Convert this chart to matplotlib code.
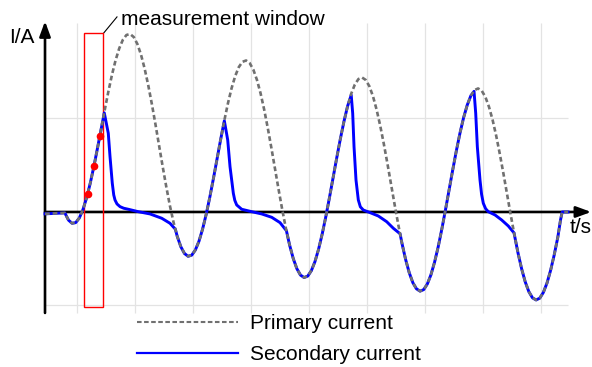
#!/usr/bin/env python
"""CT saturation sketch: primary vs. secondary current with a measurement window."""

import matplotlib
matplotlib.use("Agg")
import matplotlib.pyplot as plt
from matplotlib.lines import Line2D
from matplotlib.patches import Rectangle

plt.rcParams["font.family"] = ["Liberation Sans", "DejaVu Sans"]

# time in ms, current in grid units
primary_t = [4.43, 7.85, 8.475, 9.1, 9.725, 10.35, 10.975, 11.6, 12.225, 12.85, 13.475,
             14.1, 14.725, 15.35, 15.975, 16.6, 17.225, 17.85, 18.475, 19.1, 19.725,
             20.35, 20.975, 21.6, 22.225, 22.85, 23.475, 24.1, 24.725, 25.35, 25.975,
             26.6, 27.225, 27.85, 28.475, 29.1, 29.725, 30.35, 30.975, 31.6, 32.225,
             32.85, 33.475, 34.1, 34.725, 35.35, 35.975, 36.6, 37.225, 37.85, 38.475,
             39.1, 39.725, 40.35, 40.975, 41.6, 42.225, 42.85, 43.475, 44.1, 44.725,
             45.35, 45.975, 46.6, 47.225, 47.85, 48.475, 49.1, 49.725, 50.35, 50.975,
             51.6, 52.225, 52.85, 53.475, 54.1, 54.725, 55.35, 55.975, 56.6, 57.225,
             57.85, 58.475, 59.1, 59.725, 60.35, 60.975, 61.6, 62.225, 62.85, 63.475,
             64.1, 64.725, 65.35, 65.975, 66.6, 67.225, 67.85, 68.475, 69.1, 69.725,
             70.35, 70.975, 71.6, 72.225, 72.85, 73.475, 74.1, 74.725, 75.35, 75.975,
             76.6, 77.225, 77.85, 78.475, 79.1, 79.725, 80.35, 80.975, 81.6, 82.225,
             82.85, 83.475, 84.1, 84.725, 85.35, 85.975, 86.6, 87.225, 87.85, 88.475,
             89.1, 89.725, 90.35, 90.975, 91.6, 92.225, 92.85, 93.3, 93.6, 94.6]
primary_i = [-0.02, -0.010, -0.087, -0.121, -0.114, -0.064, 0.026, 0.151, 0.306, 0.485, 0.681,
             0.885, 1.090, 1.286, 1.467, 1.623, 1.749, 1.841, 1.893, 1.903, 1.871,
             1.797, 1.684, 1.535, 1.357, 1.155, 0.937, 0.710, 0.483, 0.266, 0.064,
             -0.113, -0.260, -0.372, -0.444, -0.474, -0.462, -0.407, -0.313, -0.183, -0.024,
             0.160, 0.360, 0.569, 0.779, 0.979, 1.163, 1.324, 1.454, 1.550, 1.606,
             1.620, 1.592, 1.522, 1.412, 1.268, 1.093, 0.894, 0.680, 0.457, 0.233,
             0.019, -0.179, -0.353, -0.497, -0.606, -0.675, -0.701, -0.686, -0.628, -0.531,
             -0.398, -0.235, -0.049, 0.154, 0.366, 0.578, 0.781, 0.968, 1.132, 1.265,
             1.363, 1.422, 1.438, 1.412, 1.345, 1.238, 1.095, 0.923, 0.727, 0.515,
             0.294, 0.073, -0.139, -0.335, -0.507, -0.649, -0.756, -0.822, -0.847, -0.830,
             -0.770, -0.671, -0.536, -0.372, -0.183, 0.022, 0.236, 0.449, 0.654, 0.843,
             1.008, 1.143, 1.243, 1.303, 1.321, 1.297, 1.231, 1.125, 0.985, 0.814,
             0.619, 0.409, 0.189, -0.031, -0.241, -0.436, -0.606, -0.747, -0.852, -0.918,
             -0.941, -0.922, -0.861, -0.761, -0.625, -0.459, -0.269, -0.09, 0.0, 0.0]

# secondary current while the CT is saturated (peak -> rejoins primary)
sat1_t = [14.65, 15.34, 15.64, 16.03, 16.28, 16.5, 16.84, 17.36, 18.0, 18.79,
          20.52, 22.53, 24.55, 25.98, 26.9]
sat1_i = [1.06, 0.842, 0.591, 0.307, 0.182, 0.128, 0.086, 0.057, 0.040, 0.029,
          0.003, -0.021, -0.067, -0.121, -0.184]
sat2_t = [35.35, 35.93, 36.33, 36.9, 37.15, 37.48, 38.34, 40.07, 41.79, 43.52, 44.95, 46.05]
sat2_i = [0.975, 0.770, 0.484, 0.200, 0.125, 0.075, 0.029, 0.003, -0.021, -0.057, -0.114, -0.200]
sat3_t = [57.225, 57.48, 57.71, 58.05, 58.45, 58.8, 59.31, 60.47, 61.9, 63.34, 64.48, 65.65]
sat3_i = [1.25, 1.056, 0.698, 0.342, 0.128, 0.055, 0.021, -0.007, -0.043, -0.104, -0.174, -0.233]
sat4_t = [78.4, 78.69, 78.97, 79.43, 79.7, 80.0, 80.4, 80.86, 82.02, 83.17, 84.31, 85.3]
sat4_i = [1.29, 1.056, 0.698, 0.342, 0.19, 0.093, 0.035, 0.003, -0.032, -0.086, -0.150, -0.224]

# sampled points inside the measurement window
sample_t = [11.8, 12.9, 13.9]
sample_i = [0.19, 0.49, 0.81]

window_t = (11.2, 14.5)
window_i = (-1.02, 1.91)

grid_t = [10, 20, 30, 40, 50, 60, 70, 80, 90]
grid_i = [1, -1]

GRAY = "#707070"
BLUE = "#0000ff"


def _secondary():
    """Secondary follows the primary except inside the saturation stretches."""
    segs = [(sat1_t, sat1_i), (sat2_t, sat2_i), (sat3_t, sat3_i), (sat4_t, sat4_i)]
    pts = [(t, i) for t, i in zip(primary_t, primary_i)
           if not any(st[0] <= t <= st[-1] for st, _ in segs)]
    for st, si in segs:
        pts += list(zip(st, si))
    pts.sort()
    return [p[0] for p in pts], [p[1] for p in pts]


def main():
    fig = plt.figure(figsize=(5.92, 3.67), dpi=100)
    ax = fig.add_axes([0, 0, 1, 1])
    ax.set_xlim(-3.33, 98.74)
    ax.set_ylim(-1.658, 2.267)
    ax.axis("off")

    # light grid
    ax.vlines(grid_t, -1.08, 2.025, color="#e3e3e3", lw=0.9, zorder=0)
    ax.hlines(grid_i, 4.43, 94.6, color="#e3e3e3", lw=0.9, zorder=0)

    # axes with arrow heads
    arrow = dict(arrowstyle="-|>,head_length=0.6,head_width=0.22", color="black",
                 lw=1.9, mutation_scale=15, shrinkA=0, shrinkB=0)
    ax.annotate("", xy=(4.43, 2.04), xytext=(4.43, -1.08), arrowprops=arrow, zorder=2)
    ax.annotate("", xy=(98.6, 0), xytext=(4.43, 0), arrowprops=arrow, zorder=2)

    ax.add_patch(Rectangle((window_t[0], window_i[0]), window_t[1] - window_t[0],
                           window_i[1] - window_i[0], fill=False, ec="red", lw=1.0,
                           zorder=2.5))

    sec_t, sec_i = _secondary()
    ax.plot(sec_t, sec_i, color=BLUE, lw=2.1, zorder=3, solid_joinstyle="round")
    ax.plot(primary_t, primary_i, color=GRAY, lw=1.9, ls=(0, (1.8, 1.1)), zorder=4)
    ax.plot(sample_t, sample_i, "o", color="red", ms=5.5, mec="none", zorder=5)

    # labels
    ax.text(-1.78, 1.811, "I/A", fontsize=15, va="baseline", ha="left")
    ax.text(94.8, -0.225, "t/s", fontsize=15, va="baseline", ha="left")
    ax.plot([window_t[1], 16.84], [window_i[1], 2.086], color="black", lw=0.8)
    ax.text(17.48, 2.0, "measurement window", fontsize=15, va="baseline", ha="left")

    handles = [Line2D([], [], color=GRAY, lw=1.5, ls=(0, (2.2, 1.2))),
               Line2D([], [], color=BLUE, lw=1.6)]
    ax.legend(handles, ["Primary current", "Secondary current"], loc="upper left",
              bbox_to_anchor=(137 / 592, 1 - 314 / 367), frameon=False, fontsize=15,
              borderpad=0, borderaxespad=0, handlelength=4.85, handletextpad=0.55,
              labelspacing=0.6)

    fig.savefig("out.png", dpi=100)
    plt.close(fig)


if __name__ == "__main__":
    main()
